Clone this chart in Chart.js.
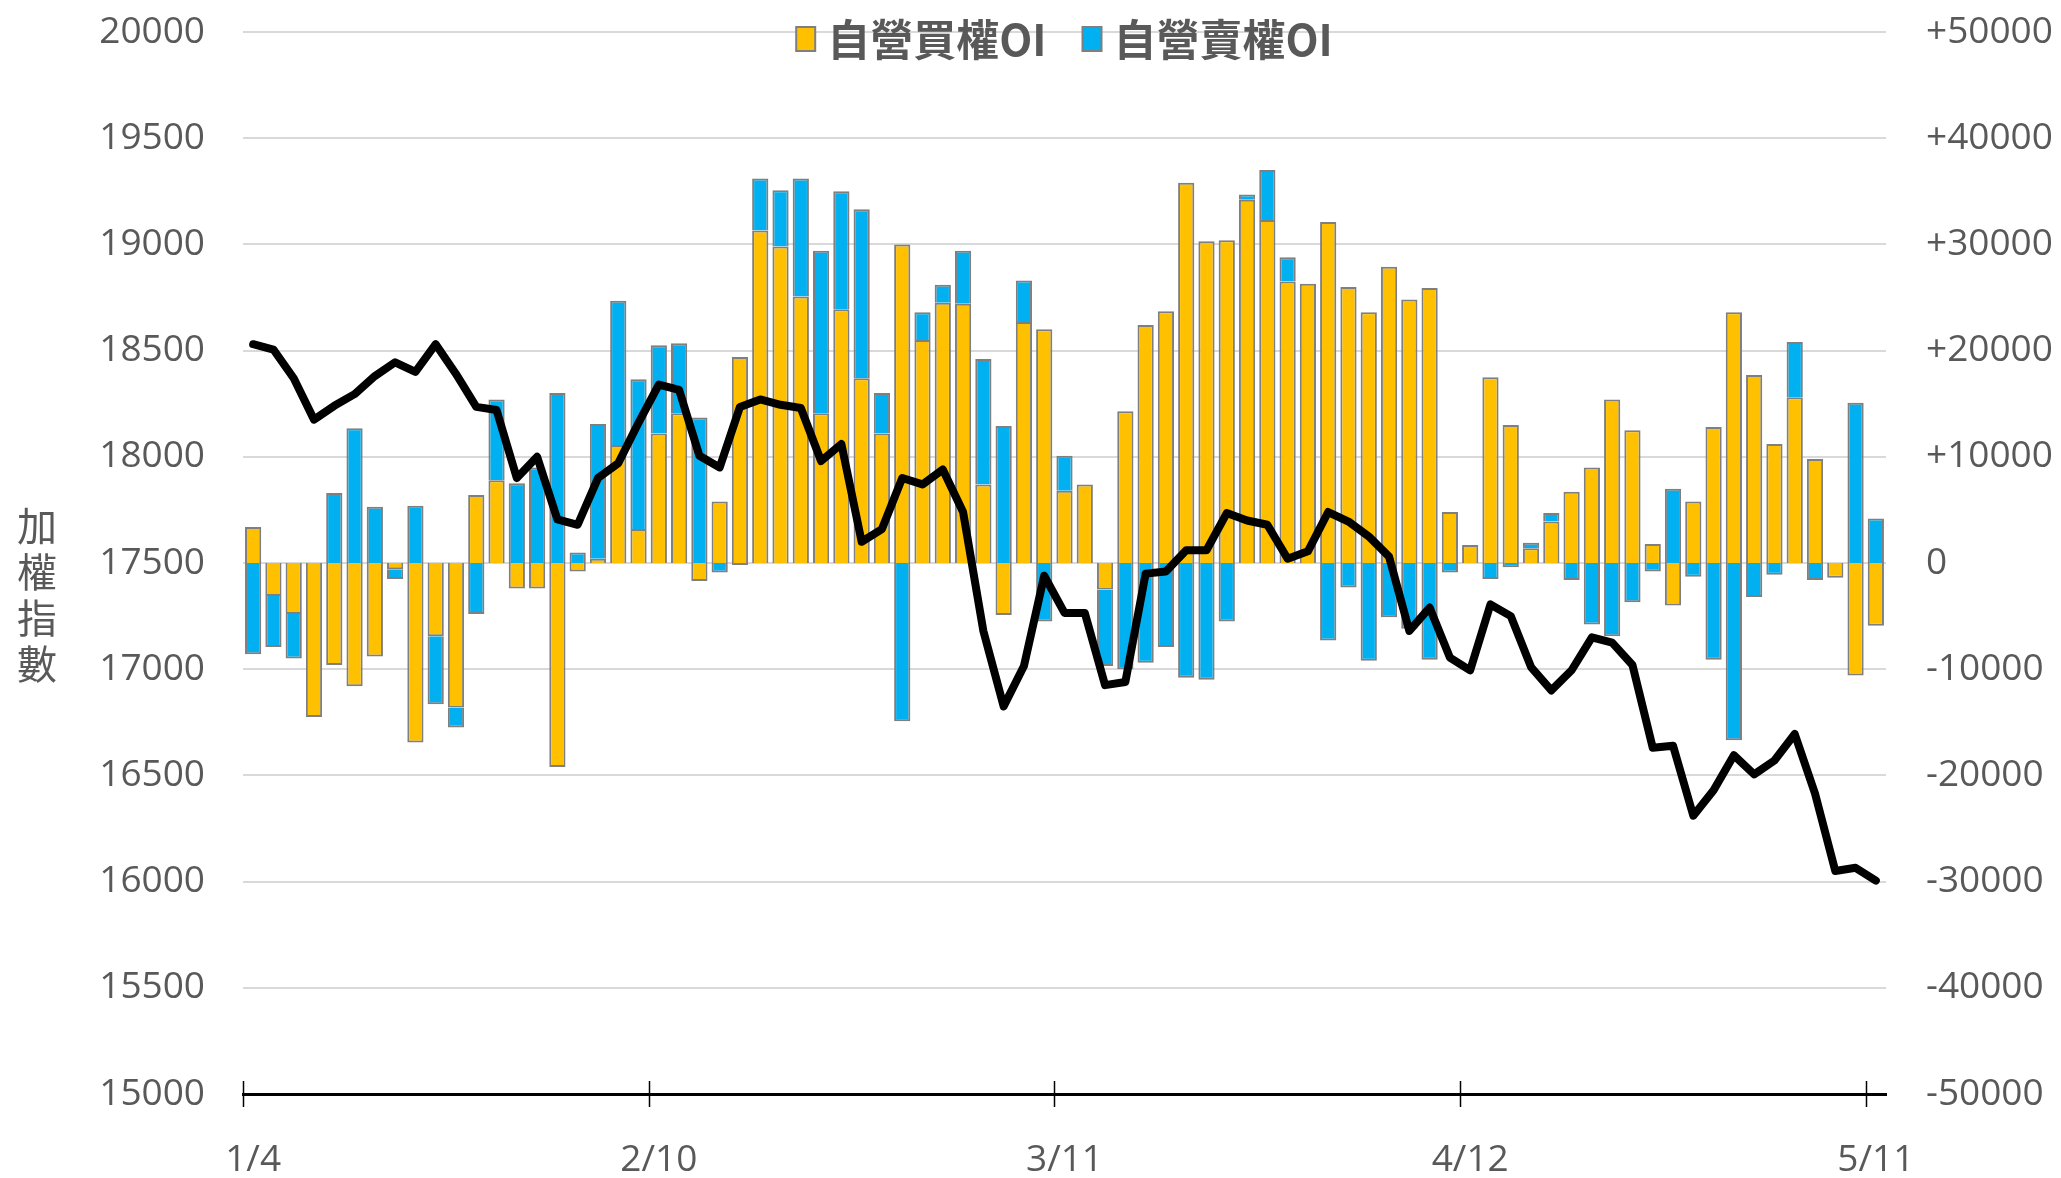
<!DOCTYPE html>
<html>
<head>
<meta charset="utf-8">
<script src="https://cdn.jsdelivr.net/npm/chart.js@4.4.1/dist/chart.umd.min.js"></script>
<style>
	html, body { margin: 0; padding: 0; background: #fff; }
	canvas { display: block; }
</style>
</head>
<body>
<canvas id="chart" width="2061" height="1178"></canvas>
<script>
// trading days shown on the x axis
const dates = [
	'1/4', '1/5', '1/6', '1/7', '1/10', '1/11', '1/12', '1/13', '1/14', '1/17',
	'1/18', '1/19', '1/20', '1/21', '1/24', '1/25', '1/26',
	'2/7', '2/8', '2/9', '2/10', '2/11', '2/14', '2/15', '2/16', '2/17', '2/18',
	'2/21', '2/22', '2/23', '2/24', '2/25',
	'3/1', '3/2', '3/3', '3/4', '3/7', '3/8', '3/9', '3/10', '3/11', '3/14',
	'3/15', '3/16', '3/17', '3/18', '3/21', '3/22', '3/23', '3/24', '3/25', '3/28',
	'3/29', '3/30', '3/31',
	'4/1', '4/6', '4/7', '4/8', '4/11', '4/12', '4/13', '4/14', '4/15', '4/18',
	'4/19', '4/20', '4/21', '4/22', '4/25', '4/26', '4/27', '4/28', '4/29',
	'5/3', '5/4', '5/5', '5/6', '5/9', '5/10', '5/11'
];

// 加權指數 (left axis)
const indexValues = [
	18530, 18505, 18370, 18175, 18240, 18295, 18380, 18445, 18400, 18530,
	18390, 18235, 18220, 17900, 18000, 17705, 17680, 17900, 17970, 18160,
	18340, 18315, 18005, 17950, 18235, 18270, 18245, 18230, 17980, 18060,
	17600, 17660, 17900, 17870, 17940, 17740, 17180, 16825, 17015, 17440,
	17265, 17265, 16925, 16940, 17450, 17460, 17560, 17560, 17735, 17700,
	17680, 17520, 17555, 17740, 17695, 17625, 17530, 17180, 17290, 17055,
	16995, 17305, 17250, 17010, 16900, 16995, 17150, 17125, 17020, 16630,
	16640, 16310, 16430, 16595, 16505, 16570, 16695, 16415, 16050, 16065,
	16005
];

// 自營買權OI (right axis)
const callOI = [
	3400, -3100, -4800, -14500, -9600, -11600, -8800, -600, -16900, -6900,
	-13600, 6400, 7800, -2400, -2400, -19200, -800, 400, 11100, 3200,
	12200, 14100, -1700, 5800, 19400, 31300, 29800, 25100, 14100, 23900,
	17400, 12200, 30000, 21000, 24500, 24400, 7400, -4900, 22700, 22000,
	6800, 7400, -2500, 14300, 22400, 23700, 35800, 30300, 30400, 34200,
	32300, 26500, 26300, 32100, 26000, 23600, 27900, 24800, 25900, 4800,
	1700, 17500, 13000, 1400, 3900, 6700, 9000, 15400, 12500, 1800,
	-4000, 5800, 12800, 23600, 17700, 11200, 15600, 9800, -1400, -10600,
	-5900
];

// 自營賣權OI (right axis)
const putOI = [
	-8600, -4800, -4200, 0, 6600, 12700, 5300, -900, 5400, -6400,
	-1900, -4800, 7600, 7500, 9000, 16000, 1000, 12700, 13600, 14100,
	8300, 6600, 13700, -900, -200, 4900, 5300, 11100, 15300, 11100,
	15900, 3800, -14900, 2600, 1700, 5000, 11800, 12900, 3900, -5500,
	3300, 0, -7200, -10000, -9400, -7900, -10800, -11000, -5500, 500,
	4700, 2300, 0, -7300, -2300, -9200, -5100, -6200, -9100, -900,
	0, -1500, -400, 500, 800, -1600, -5800, -6900, -3700, -800,
	7000, -1300, -9100, -16700, -3200, -1100, 5200, -1600, 0, 15100,
	4200
];

const leftRange = [15000, 20000, 500];
const rightRange = [-50000, 50000, 10000];
const labelEvery = 20;
const axisTitle = ['加', '權', '指', '數'];

const textColor = '#595959';
const tickFont = { family: '"Open Sans", "Noto Sans CJK TC", sans-serif', size: 37 };
const cjkFont = '"Noto Sans CJK TC", "Open Sans", sans-serif';

// crossing tick marks on the category axis, left title, legend inside the plot
const decorPlugin = {
	id: 'decor',
	afterDraw: function (chart) {
		const ctx = chart.ctx;
		const area = chart.chartArea;
		const x = chart.scales.x;
		const half = (area.right - area.left) / dates.length / 2;

		ctx.save();
		ctx.strokeStyle = '#000';
		ctx.lineWidth = 1.5;
		for (let i = 0; i < dates.length; i += labelEvery) {
			const px = Math.round(x.getPixelForTick(i) - half) + 0.5;
			ctx.beginPath();
			ctx.moveTo(px, area.bottom - 13);
			ctx.lineTo(px, area.bottom + 13);
			ctx.stroke();
		}

		// 加權指數, one character under the other
		ctx.fillStyle = textColor;
		ctx.font = '40px ' + cjkFont;
		ctx.textAlign = 'center';
		ctx.textBaseline = 'middle';
		axisTitle.forEach((ch, i) => {
			ctx.fillText(ch, 37, 526 + i * 46);
		});

		// legend
		const items = chart.data.datasets.filter((d) => d.type === 'bar');
		ctx.font = 'bold 43px ' + cjkFont;
		ctx.textAlign = 'left';
		const boxW = 19, boxH = 24, gapBox = 12, gapItem = 36;
		const widths = items.map((d) => boxW + gapBox + ctx.measureText(d.label).width);
		const total = widths.reduce((a, b) => a + b, 0) + gapItem * (items.length - 1);
		let lx = (area.left + area.right) / 2 - total / 2;
		const ly = 39;
		items.forEach((d, i) => {
			ctx.fillStyle = d.backgroundColor;
			ctx.fillRect(lx, ly - boxH / 2, boxW, boxH);
			ctx.strokeStyle = '#7f7f7f';
			ctx.lineWidth = 2;
			ctx.strokeRect(lx, ly - boxH / 2, boxW, boxH);
			ctx.fillStyle = textColor;
			ctx.fillText(d.label, lx + boxW + gapBox, ly + 1);
			lx += widths[i] + gapItem;
		});
		ctx.restore();
	}
};

// fixed axis sizes so the plot area sits where the original one does
function fitY(width) {
	return function (scale) {
		scale.width = width;
		scale.paddingTop = 0;
		scale.paddingBottom = 0;
	};
}

const ctx = document.getElementById('chart').getContext('2d');
new Chart(ctx, {
	type: 'bar',
	data: {
		labels: dates,
		datasets: [{
			type: 'line',
			label: '加權指數',
			data: indexValues,
			yAxisID: 'y',
			borderColor: '#000',
			borderWidth: 8,
			borderJoinStyle: 'round',
			borderCapStyle: 'round',
			pointRadius: 0,
			tension: 0,
			order: 0
		}, {
			type: 'bar',
			label: '自營買權OI',
			data: callOI,
			yAxisID: 'y2',
			backgroundColor: '#FFC000',
			borderColor: '#7f7f7f',
			borderWidth: 2,
			barPercentage: 0.8,
			categoryPercentage: 1,
			order: 1
		}, {
			type: 'bar',
			label: '自營賣權OI',
			data: putOI,
			yAxisID: 'y2',
			backgroundColor: '#00B0F0',
			borderColor: '#7f7f7f',
			borderWidth: 2,
			barPercentage: 0.8,
			categoryPercentage: 1,
			order: 1
		}]
	},
	options: {
		responsive: false,
		animation: false,
		devicePixelRatio: 1,
		layout: { padding: { top: 32, left: 0, right: 0, bottom: 0 } },
		plugins: {
			legend: { display: false },
			tooltip: { enabled: false }
		},
		scales: {
			x: {
				stacked: true,
				grid: { display: false, drawTicks: false },
				border: { display: true, color: '#000', width: 3 },
				ticks: {
					autoSkip: false,
					maxRotation: 0,
					padding: 44,
					color: textColor,
					font: tickFont,
					callback: function (value, index) {
						return index % labelEvery === 0 ? dates[index] : '';
					}
				},
				afterFit: function (scale) { scale.height = 84; }
			},
			y: {
				position: 'left',
				min: leftRange[0],
				max: leftRange[1],
				grid: { color: '#d9d9d9', lineWidth: 2, drawTicks: false },
				border: { display: false },
				ticks: {
					stepSize: leftRange[2],
					padding: 38,
					color: textColor,
					font: tickFont,
					callback: function (v) { return String(v); }
				},
				afterFit: fitY(243)
			},
			y2: {
				position: 'right',
				stacked: true,
				min: rightRange[0],
				max: rightRange[1],
				grid: { display: false, drawTicks: false },
				border: { display: false },
				ticks: {
					stepSize: rightRange[2],
					padding: 40,
					color: textColor,
					font: tickFont,
					callback: function (v) { return v > 0 ? '+' + v : String(v); }
				},
				afterFit: fitY(175)
			}
		}
	},
	plugins: [decorPlugin]
});
</script>
</body>
</html>
